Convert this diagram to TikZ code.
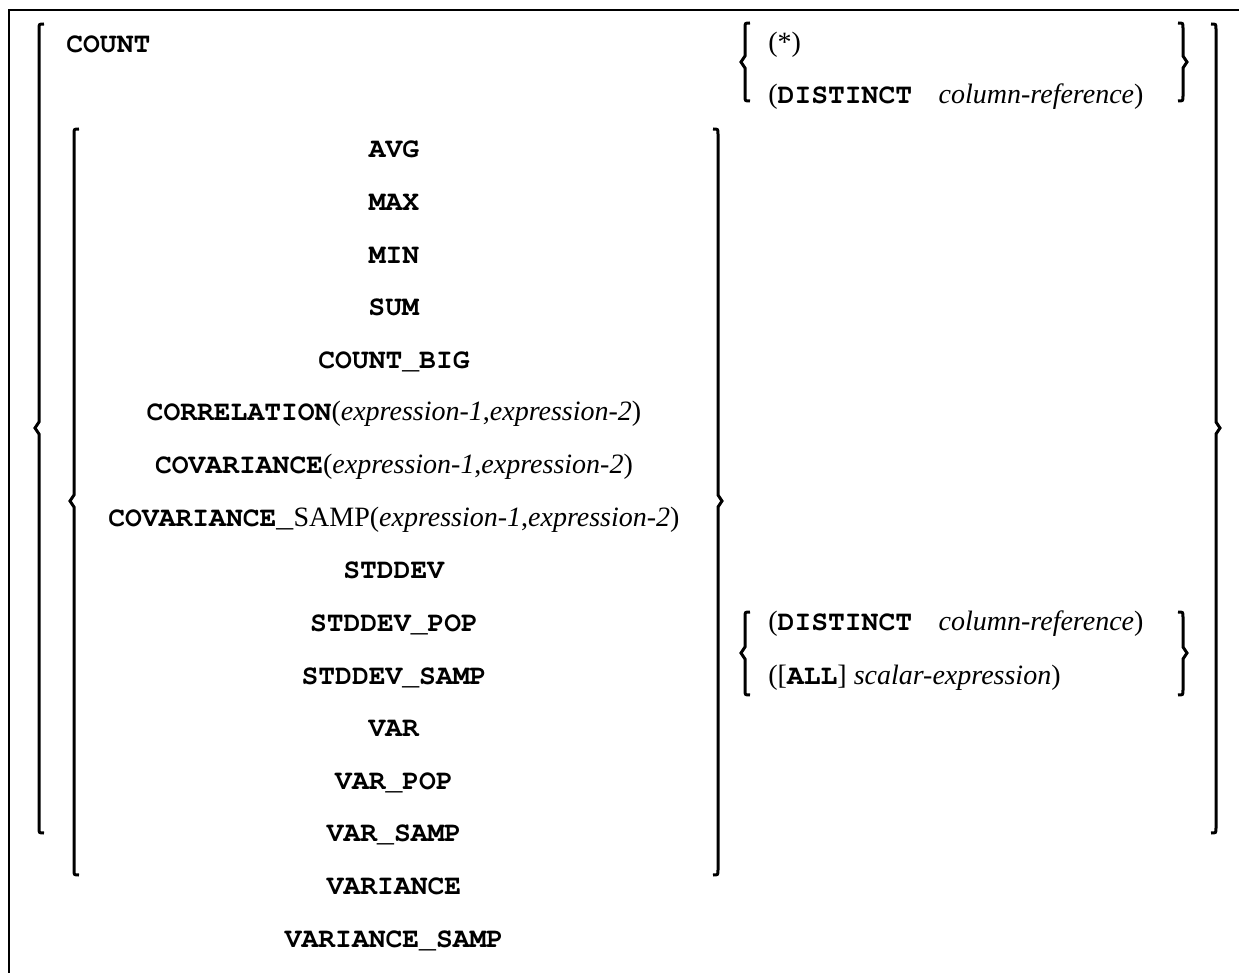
\documentclass[tikz,border=0pt]{standalone}
\usepackage{fontspec}
\setmainfont{Liberation Serif}
\setmonofont{texgyrecursor-regular.otf}[BoldFont=texgyrecursor-bold.otf]
\newcommand\kw[1]{\texttt{\textbf{#1}}}
\newcommand\ar[1]{\textit{#1}}
\tikzset{
  x=0.5pt, y=-0.5pt,
  txt/.style={inner sep=0pt, font=\fontsize{14}{16}\selectfont},
  row/.style={txt, anchor=base},
  lft/.style={txt, anchor=base west},
  brc/.style={line width=1.5pt, line join=miter},
  frame/.style={line width=1pt}
}
\newcommand\LeftBr[4]{% x, ytop, ymid, ybot
  \draw[brc] (#1+5,#2) .. controls (#1,#2) .. (#1,#2+5) -- (#1,#3-6) -- (#1-4,#3) -- (#1,#3+6) -- (#1,#4-5) .. controls (#1,#4) .. (#1+5,#4);}
\newcommand\RightBr[4]{%
  \draw[brc] (#1-5,#2) .. controls (#1,#2) .. (#1,#2+5) -- (#1,#3-6) -- (#1+4,#3) -- (#1,#3+6) -- (#1,#4-5) .. controls (#1,#4) .. (#1-5,#4);}
\begin{document}
\begin{tikzpicture}
\useasboundingbox (0,0) rectangle (1239,973);
\fill[white] (0,0) rectangle (1239,973);
\draw[frame] (9,973) -- (9,10) -- (1239,10);

% outer braces
\LeftBr{39}{24}{428}{833}
\RightBr{1216}{24}{428}{833}
% inner braces
\LeftBr{74}{129}{501}{875}
\RightBr{718}{129}{501}{875}
% small braces (top)
\LeftBr{745}{23}{62}{101}
\RightBr{1183}{23}{62}{101}
% small braces (lower)
\LeftBr{745}{612}{653}{695}
\RightBr{1183}{612}{653}{695}

\node[lft] (count) at (66,53) {\kw{COUNT}};
\node[lft] (star) at (768,52) {(*)};
\node[lft] (dist1) at (768,104) {(\kw{DISTINCT}\hspace{0.95em}\ar{column-reference})};
\node[lft] (dist2) at (768,631) {(\kw{DISTINCT}\hspace{0.95em}\ar{column-reference})};
\node[lft] (all) at (768,684) {([\kw{ALL}] \ar{scalar-expression})};

\node[row] (r0) at (394,158.0) {\kw{AVG}};
\node[row] (r1) at (394,210.6) {\kw{MAX}};
\node[row] (r2) at (394,263.2) {\kw{MIN}};
\node[row] (r3) at (394,315.8) {\kw{SUM}};
\node[row] (r4) at (394,368.4) {\kw{COUNT\_BIG}};
\node[row] (r5) at (394,421.0) {\kw{CORRELATION}(\ar{expression-1},\ar{expression-2})};
\node[row] (r6) at (394,473.6) {\kw{COVARIANCE}(\ar{expression-1},\ar{expression-2})};
\node[row] (r7) at (394,526.2) {\kw{COVARIANCE\_}SAMP(\ar{expression-1},\ar{expression-2})};
\node[row] (r8) at (394,578.8) {\kw{STDDEV}};
\node[row] (r9) at (394,631.4) {\kw{STDDEV\_POP}};
\node[row] (r10) at (394,684.0) {\kw{STDDEV\_SAMP}};
\node[row] (r11) at (394,736.6) {\kw{VAR}};
\node[row] (r12) at (394,789.2) {\kw{VAR\_POP}};
\node[row] (r13) at (394,841.8) {\kw{VAR\_SAMP}};
\node[row] (r14) at (394,894.4) {\kw{VARIANCE}};
\node[row] (r15) at (394,947.0) {\kw{VARIANCE\_SAMP}};
\end{tikzpicture}
\end{document}
